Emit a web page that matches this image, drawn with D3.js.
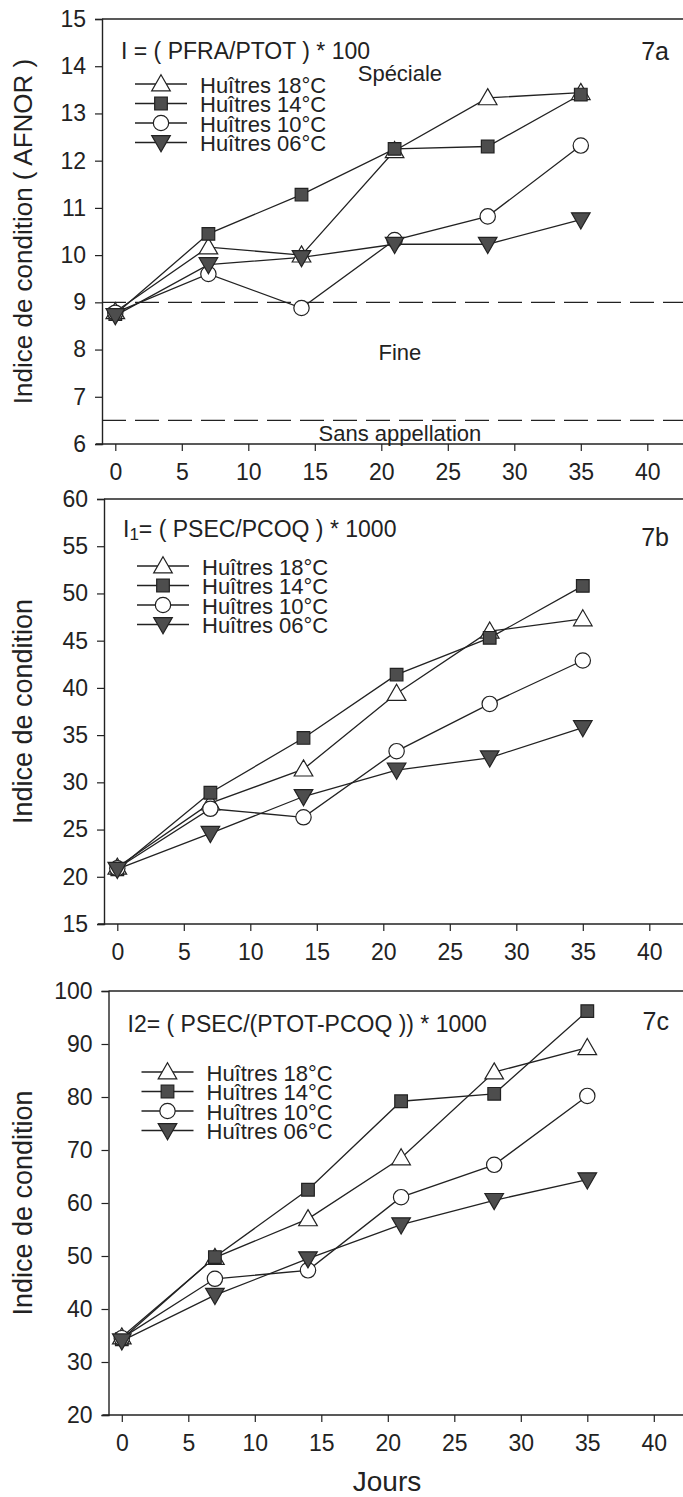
<!DOCTYPE html>
<html>
<head>
<meta charset="utf-8">
<script src="https://cdn.jsdelivr.net/npm/d3@7"></script>
<style>
  html, body { margin: 0; padding: 0; background: #fff; }
  svg { display: block; }
  svg text { font-family: "Liberation Sans Narrow", "Arial Narrow", "Liberation Sans", Arial, sans-serif; fill: #222; }
</style>
</head>
<body>
<div id="chart"></div>
<script>
// ============= Data =============
const days = [0, 7, 14, 21, 28, 35];
const seriesNames = ["Huîtres 18°C", "Huîtres 14°C", "Huîtres 10°C", "Huîtres 06°C"];
const xTicks = [0, 5, 10, 15, 20, 25, 30, 35, 40];

// 7a : I = (PFRA/PTOT) * 100
const afnor18 = [8.80, 10.17, 10.00, 12.21, 13.33, 13.44];
const afnor14 = [8.75, 10.45, 11.28, 12.25, 12.30, 13.40];
const afnor10 = [8.78, 9.60, 8.88, 10.32, 10.82, 12.32];
const afnor06 = [8.72, 9.80, 9.95, 10.23, 10.23, 10.75];
const afnorTicks = [6, 7, 8, 9, 10, 11, 12, 13, 14, 15];
const afnorLimits = [9, 6.5];

// 7b : I1 = (PSEC/PCOQ) * 1000
const i1_18 = [21.0, 27.8, 31.4, 39.4, 46.0, 47.3];
const i1_14 = [20.8, 28.9, 34.7, 41.4, 45.3, 50.8];
const i1_10 = [20.9, 27.2, 26.3, 33.3, 38.3, 42.9];
const i1_06 = [20.8, 24.6, 28.5, 31.3, 32.6, 35.8];
const i1Ticks = [15, 20, 25, 30, 35, 40, 45, 50, 55, 60];

// 7c : I2 = (PSEC/(PTOT-PCOQ)) * 1000
const i2_18 = [34.7, 49.7, 57.0, 68.5, 84.7, 89.3];
const i2_14 = [34.3, 49.8, 62.5, 79.2, 80.6, 96.2];
const i2_10 = [34.5, 45.7, 47.3, 61.1, 67.2, 80.2];
const i2_06 = [34.0, 42.6, 49.5, 55.9, 60.5, 64.4];
const i2Ticks = [20, 30, 40, 50, 60, 70, 80, 90, 100];

const W = 683, H = 1497;
const dark = "#4d4d4d";

// marker styles, one per series (18, 14, 10, 06)
const markers = [
  { type: d3.symbolTriangle, size: 150, fill: "#fff", rot: 0 },
  { type: d3.symbolSquare, size: 160, fill: dark, rot: 0 },
  { type: d3.symbolCircle, size: 185, fill: "#fff", rot: 0 },
  { type: d3.symbolTriangle, size: 150, fill: dark, rot: 180 }
];

const panels = [
  {
    id: "7a", left: 102, top: 19, bottom: 444,
    domain: [6, 15], ticks: afnorTicks,
    series: [afnor18, afnor14, afnor10, afnor06],
    ylabel: "Indice de condition ( AFNOR )", ylabelSize: 26,
    formula: [{ t: "I = ( PFRA/PTOT ) * 100" }],
    formulaY: 51, tagY: 51, legendY: 84
  },
  {
    id: "7b", left: 104, top: 499, bottom: 924,
    domain: [15, 60], ticks: i1Ticks,
    series: [i1_18, i1_14, i1_10, i1_06],
    ylabel: "Indice de condition", ylabelSize: 27,
    formula: [{ t: "I" }, { t: "1", sub: true }, { t: "= ( PSEC/PCOQ ) * 1000" }],
    formulaY: 529, tagY: 537, legendY: 566
  },
  {
    id: "7c", left: 108.5, top: 991, bottom: 1415,
    domain: [20, 100], ticks: i2Ticks,
    series: [i2_18, i2_14, i2_10, i2_06],
    ylabel: "Indice de condition", ylabelSize: 27,
    formula: [{ t: "I2= ( PSEC/(PTOT-PCOQ )) * 1000" }],
    formulaY: 1024, tagY: 1021, legendY: 1072
  }
];

const svg = d3.select("#chart").append("svg")
  .attr("width", W)
  .attr("height", H);

panels.forEach(p => {
  const x = d3.scaleLinear().domain([-1, 44]).range([p.left, p.left + 45 * 13.3]);
  const y = d3.scaleLinear().domain(p.domain).range([p.bottom, p.top]);
  const g = svg.append("g");

  // frame: top line, left and bottom axes
  g.append("line")
    .attr("x1", p.left).attr("x2", W)
    .attr("y1", p.top).attr("y2", p.top)
    .attr("stroke", "#222").attr("stroke-width", 1.4);

  const yAxis = g.append("g")
    .attr("transform", `translate(${p.left},0)`)
    .call(d3.axisLeft(y).tickValues(p.ticks).tickSize(7).tickPadding(9).tickFormat(d3.format("d")));
  const xAxis = g.append("g")
    .attr("transform", `translate(0,${p.bottom})`)
    .call(d3.axisBottom(x).tickValues(xTicks).tickSize(7).tickPadding(13).tickFormat(d3.format("d")));

  [yAxis, xAxis].forEach(a => {
    a.attr("font-family", null).attr("font-size", null);
    a.select(".domain").attr("stroke", "#222").attr("stroke-width", 1.4);
    a.selectAll(".tick line").attr("stroke", "#222").attr("stroke-width", 1.2);
    a.selectAll(".tick text").attr("fill", "#222").style("font-size", "23px");
  });
  xAxis.select(".domain").attr("d", `M${p.left - 6},0H${W}`);

  // y title
  const yMid = (p.top + p.bottom) / 2;
  g.append("text")
    .attr("transform", `translate(23,${yMid}) rotate(-90)`)
    .attr("text-anchor", "middle")
    .attr("dominant-baseline", "central")
    .style("font-size", p.ylabelSize + "px")
    .text(p.ylabel);

  // AFNOR classes
  if (p.id === "7a") {
    afnorLimits.forEach(v => {
      g.append("line")
        .attr("x1", p.left).attr("x2", W)
        .attr("y1", y(v)).attr("y2", y(v))
        .attr("stroke", "#222").attr("stroke-width", 1.4)
        .attr("stroke-dasharray", "24,9");
    });
    [["Spéciale", 13.85], ["Fine", 7.93], ["Sans appellation", 6.22]].forEach(([t, v]) => {
      g.append("text")
        .attr("x", x(21.4)).attr("y", y(v))
        .attr("text-anchor", "middle")
        .attr("dominant-baseline", "central")
        .style("font-size", "22px")
        .text(t);
    });
  }

  // formula and panel tag
  const ft = g.append("text")
    .attr("x", p.left + 19).attr("y", p.formulaY)
    .attr("dominant-baseline", "central")
    .style("font-size", "23px");
  p.formula.forEach(f => {
    const s = ft.append("tspan").text(f.t);
    if (f.sub) s.attr("baseline-shift", "-30%").style("font-size", "17px");
  });
  g.append("text")
    .attr("x", 669).attr("y", p.tagY)
    .attr("text-anchor", "end")
    .attr("dominant-baseline", "central")
    .style("font-size", "25px")
    .text(p.id);

  // series lines and markers
  const line = d3.line().x((d, i) => x(days[i])).y(d => y(d));
  p.series.forEach(vals => {
    g.append("path")
      .attr("d", line(vals))
      .attr("fill", "none")
      .attr("stroke", "#222")
      .attr("stroke-width", 1.3);
  });
  const shift = m => (m.rot ? -1.5 : (m.type === d3.symbolTriangle ? 1.5 : 0));
  p.series.forEach((vals, k) => {
    const m = markers[k];
    g.selectAll(null)
      .data(vals)
      .join("path")
      .attr("transform", (d, i) => `translate(${x(days[i])},${y(d) + shift(m)}) rotate(${m.rot})`)
      .attr("d", d3.symbol(m.type, m.size))
      .attr("fill", m.fill)
      .attr("stroke", "#222")
      .attr("stroke-width", 1.2);
  });

  // legend
  seriesNames.forEach((name, k) => {
    const ly = p.legendY + k * 19.5;
    const lx = p.left + 33;
    const m = markers[k];
    g.append("line")
      .attr("x1", lx).attr("x2", lx + 52)
      .attr("y1", ly).attr("y2", ly)
      .attr("stroke", "#222").attr("stroke-width", 1.3);
    g.append("path")
      .attr("transform", `translate(${lx + 26},${ly + shift(m)}) rotate(${m.rot})`)
      .attr("d", d3.symbol(m.type, m.size))
      .attr("fill", m.fill)
      .attr("stroke", "#222")
      .attr("stroke-width", 1.2);
    g.append("text")
      .attr("x", lx + 65).attr("y", ly + 1)
      .attr("dominant-baseline", "central")
      .style("font-size", "22px")
      .text(name);
  });
});

// x title
svg.append("text")
  .attr("x", 387).attr("y", 1481)
  .attr("text-anchor", "middle")
  .attr("dominant-baseline", "central")
  .style("font-size", "28px")
  .text("Jours");
</script>
</body>
</html>
